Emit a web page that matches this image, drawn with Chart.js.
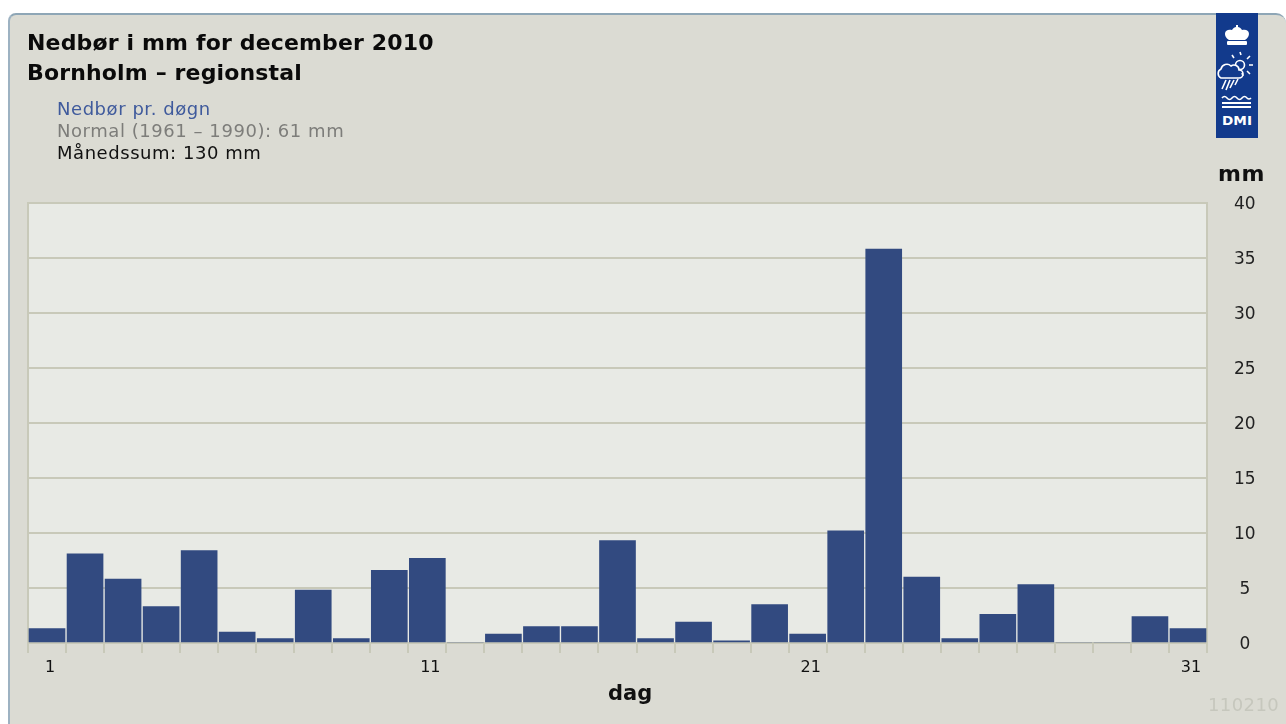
<!DOCTYPE html>
<html>
<head>
<meta charset="utf-8">
<title>Nedbør december 2010</title>
<script src="https://cdn.jsdelivr.net/npm/chart.js@4"></script>
<style>
    html, body { margin: 0; padding: 0; background: #fff; overflow: hidden; }
    #page { position: relative; width: 1286px; height: 724px; overflow: hidden; filter: blur(0.4px); }
    #panel { position: absolute; left: 8px; top: 13px; width: 1278px; height: 730px; background: #dbdbd3;
             border-top: 2px solid #8ea6b6; border-left: 2px solid #9db2c2; border-radius: 8px 10px 0 0; box-sizing: border-box; }
    #rainChart { position: absolute; left: 0; top: 0; }
    .txt { position: absolute; font-family: "DejaVu Sans", sans-serif; white-space: nowrap; line-height: 1; }
    .head { font-size: 22px; font-weight: bold; color: #0a0a0a; letter-spacing: 0.15px; left: 27px; }
    .sub { font-size: 18px; left: 57px; letter-spacing: 0.55px; }
    #logo { position: absolute; left: 1216px; top: 13px; }
</style>
</head>
<body>
<div id="page">
    <div id="panel"></div>
    <canvas id="rainChart" width="1286" height="724"></canvas>
    <div class="txt head" style="top:32px">Nedbør i mm for december 2010</div>
    <div class="txt head" style="top:62px">Bornholm – regionstal</div>
    <div class="txt sub" style="top:100px;color:#3f5a9c">Nedbør pr. døgn</div>
    <div class="txt sub" style="top:122px;color:#7d7d7a">Normal (1961 – 1990): 61 mm</div>
    <div class="txt sub" style="top:144px;color:#111">Månedssum: 130 mm</div>
    <div class="txt" style="left:1218px;top:163px;font-size:22px;font-weight:bold;color:#111;letter-spacing:.5px">mm</div>
    <div class="txt" style="left:608px;top:683px;font-size:21px;font-weight:bold;color:#111">dag</div>
    <div class="txt" style="left:1208px;top:696px;font-size:18px;color:#c6c7bd;letter-spacing:.4px">110210</div>
    <svg id="logo" width="42" height="125" viewBox="0 0 42 125">
        <rect width="42" height="125" fill="#123a8c"/>
        <g fill="#fff" stroke="none">
            <path d="M13 27 c-7 -5 -4 -12 3 -10 c1 -2 3 -3 4 -3 v-2 h2 v2 c1 0 3 1 4 3 c7 -2 10 5 3 10 z"/>
            <rect x="11" y="28" width="20" height="4" rx="1"/>
        </g>
        <g stroke="#fff" stroke-width="1.6" fill="none">
            <circle cx="24" cy="52" r="4.5"/>
            <path d="M5 65 a5 5 0 0 1 0 -9 a6 6 0 0 1 10 -3 a5 5 0 0 1 8 4 a4 4 0 0 1 0 8 z" fill="#123a8c"/>
            <path d="M25 42 l-1 -3 M31 46 l3 -3 M33 52 h4 M31 58 l3 3 M26 60 l1 3 M18 45 l-2 -3"/>
            <path d="M10 67 l-4 9 M14 67 l-4 10 M18 67 l-4 8 M22 66 l-3 6"/>
            <path d="M6 85 q2.5 -3 5 0 q2.5 3 5 0 q2.5 -3 5 0 q2.5 3 5 0 q2.5 -3 5 0 q2 2 4 0"/>
            <path d="M6 90 h29" stroke-width="2"/>
            <path d="M6 94 h29" stroke-width="2"/>
        </g>
        <text x="21" y="112" fill="#fff" font-family="DejaVu Sans" font-weight="bold" font-size="12" text-anchor="middle" textLength="30" lengthAdjust="spacingAndGlyphs">DMI</text>
    </svg>
</div>
<script>
    const days = ['1','2','3','4','5','6','7','8','9','10','11','12','13','14','15','16','17','18','19','20','21','22','23','24','25','26','27','28','29','30','31'];
    const rainMm = [1.3, 8.1, 5.8, 3.3, 8.4, 1.0, 0.4, 4.8, 0.4, 6.6, 7.7, 0, 0.8, 1.5, 1.5, 9.3, 0.4, 1.9, 0.2, 3.5, 0.8, 10.2, 35.8, 6.0, 0.4, 2.6, 5.3, 0, 0, 2.4, 1.3];
    const labelledDays = ['1', '11', '21', '31'];
    const yTicks = [0, 5, 10, 15, 20, 25, 30, 35, 40];

    // Light plot background behind the bars
    const plotBackground = {
        id: 'plotBackground',
        beforeDraw(chart) {
            const { ctx, chartArea: a } = chart;
            ctx.save();
            ctx.fillStyle = '#e8eae5';
            ctx.fillRect(a.left, a.top, a.right - a.left, a.bottom - a.top);
            ctx.strokeStyle = '#c8c9b9';
            ctx.lineWidth = 2;
            ctx.strokeRect(a.left, a.top, a.right - a.left, a.bottom - a.top);
            ctx.restore();
        }
    };

    const ctx = document.getElementById('rainChart').getContext('2d');
    new Chart(ctx, {
        type: 'bar',
        data: {
            labels: days,
            datasets: [{
                label: 'Nedbør pr. døgn',
                data: rainMm,
                backgroundColor: '#324a80',
                barThickness: 36
            }]
        },
        options: {
            responsive: false,
            animation: false,
            layout: { padding: { left: 28, top: 203, right: 0, bottom: 0 } },
            plugins: { legend: { display: false }, tooltip: { enabled: false } },
            scales: {
                x: {
                    afterFit: scale => { scale.height = 81; },
                    grid: { offset: true, drawOnChartArea: false, color: '#c8c9b9', lineWidth: 2, tickLength: 10 },
                    border: { color: '#c8c9b9', width: 2 },
                    ticks: {
                        autoSkip: false,
                        maxRotation: 0,
                        padding: 5,
                        labelOffset: 3,
                        color: '#111',
                        font: { family: 'DejaVu Sans', size: 16 },
                        callback(value) {
                            const day = this.getLabelForValue(value);
                            return labelledDays.includes(day) ? day : '';
                        }
                    }
                },
                y: {
                    position: 'right',
                    min: 0,
                    max: 40,
                    afterFit: scale => { scale.width = 79; },
                    afterBuildTicks: scale => { scale.ticks = yTicks.map(v => ({ value: v })); },
                    grid: { color: '#c8c9b9', lineWidth: 2, drawTicks: false },
                    border: { display: false },
                    ticks: {
                        crossAlign: 'center',
                        padding: 27,
                        labelOffset: 2,
                        color: '#222',
                        font: { family: 'DejaVu Sans', size: 17 }
                    }
                }
            }
        },
        plugins: [plotBackground]
    });
</script>
</body>
</html>
